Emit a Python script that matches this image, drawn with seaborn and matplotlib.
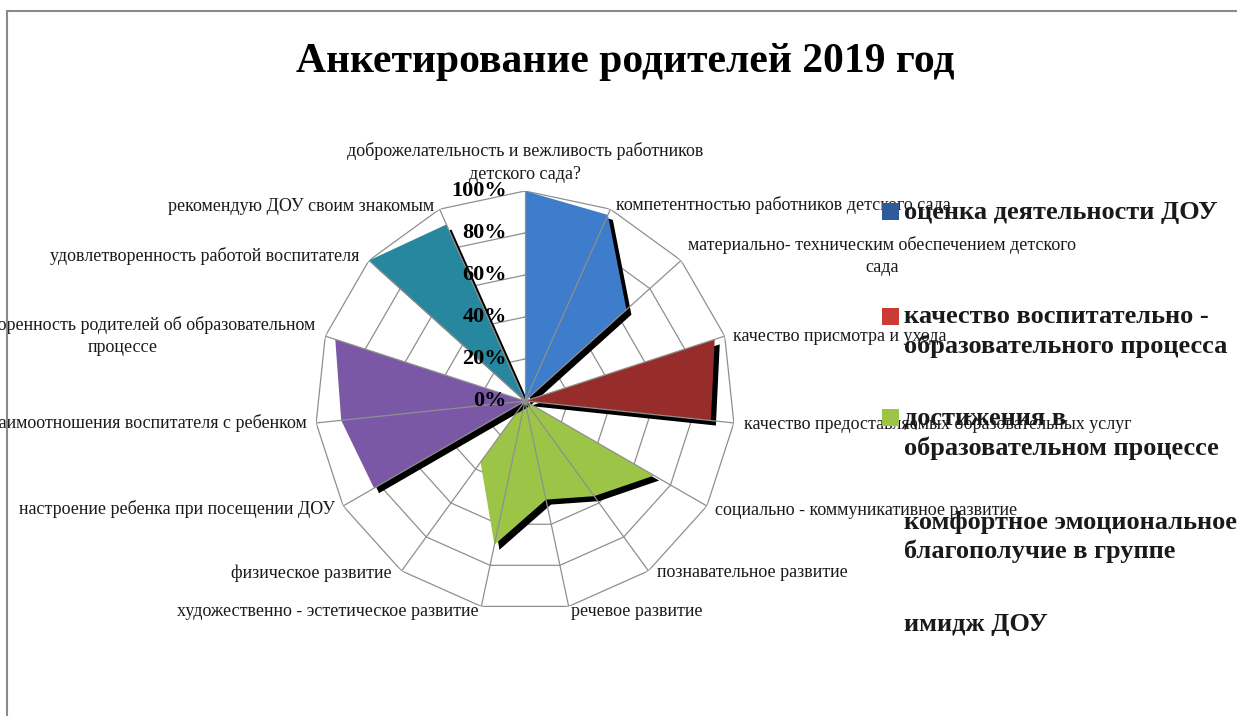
import numpy as np
import pandas as pd
import matplotlib
matplotlib.use("Agg")
import matplotlib.pyplot as plt
import matplotlib.patheffects as pe
from matplotlib.patches import Rectangle
from matplotlib.lines import Line2D
import seaborn as sns

# ---------------- data ----------------
title = "Анкетирование родителей 2019 год"

categories = [
    "доброжелательность и вежливость работников\nдетского сада?",
    "компетентностью работников детского сада",
    "материально- техническим обеспечением детского\nсада",
    "качество присмотра и ухода",
    "качество предоставляемых образовательных услуг",
    "социально - коммуникативное развитие",
    "познавательное развитие",
    "речевое развитие",
    "художественно - эстетическое развитие",
    "физическое развитие",
    "настроение ребенка при посещении ДОУ",
    "взаимоотношения воспитателя с ребенком",
    "удовлетворенность родителей об образовательном\nпроцессе",
    "удовлетворенность работой воспитателя",
    "рекомендую ДОУ своим знакомым",
]

series_names = [
    "оценка деятельности ДОУ",
    "качество воспитательно -\nобразовательного процесса",
    "достижения в\nобразовательном процессе",
    "комфортное эмоциональное\nблагополучие в группе",
    "имидж ДОУ",
]

ocenka_vals     = [1.00, 0.97, 0.65, 0, 0, 0, 0, 0, 0, 0, 0, 0, 0, 0, 0]
kachestvo_vals  = [0, 0, 0, 0.95, 0.89, 0, 0, 0, 0, 0, 0, 0, 0, 0, 0]
dostizh_vals    = [0, 0, 0, 0, 0, 0.71, 0.56, 0.48, 0.70, 0.36, 0, 0, 0, 0, 0]
komfort_vals    = [0, 0, 0, 0, 0, 0, 0, 0, 0, 0, 0.83, 0.88, 0.95, 0, 0]
imidzh_vals     = [0, 0, 0, 0, 0, 0, 0, 0, 0, 0, 0, 0, 0, 1.00, 0.92]

tick_values = [0.0, 0.2, 0.4, 0.6, 0.8, 1.0]
tick_labels = ["0%", "20%", "40%", "60%", "80%", "100%"]

# ---------------- style ----------------
sns.set_theme(style="white")
plt.rcParams['font.family'] = ['Liberation Serif', 'DejaVu Serif']

fill_colors = ["#3d7dcb", "#972d2b", "#9cc547", "#7b58a6", "#27879f"]
legend_colors = ["#2e5c9a", "#cc3a35", "#9cc547", None, None]

W, H = 1237, 716
fig = plt.figure(figsize=(W / 100, H / 100), dpi=100)

cx, cy, R = 525, 401, 210
ax = fig.add_axes([(cx - R) / W, 1 - (cy + R) / H, 2 * R / W, 2 * R / H], projection="polar")
ax.set_theta_offset(np.pi / 2)
ax.set_theta_direction(-1)
ax.set_ylim(0, 1)
ax.set_xticks([])
ax.set_yticks([])
ax.grid(False)
ax.spines['polar'].set_visible(False)
ax.patch.set_alpha(0)

n = len(categories)
angles = np.arange(n) * 2 * np.pi / n
closed_angles = np.append(angles, angles[0])

# polygonal rings
grid_color = "#8f8f8f"
for v in tick_values[1:]:
    ring = pd.DataFrame({"theta": closed_angles, "r": [v] * (n + 1)})
    sns.lineplot(data=ring, x="theta", y="r", sort=False, estimator=None,
                 ax=ax, color=grid_color, lw=0.9, zorder=1)

# series fills with shadow
all_vals = [ocenka_vals, kachestvo_vals, dostizh_vals, komfort_vals, imidzh_vals]
for vals, col in zip(all_vals, fill_colors):
    vv = np.append(vals, vals[0])
    ax.fill(closed_angles, vv, color=col, lw=0, zorder=2,
            path_effects=[pe.SimplePatchShadow(offset=(3.6, -3.6), shadow_rgbFace="black", alpha=1.0),
                          pe.Normal()])

# spokes on top
for a in angles:
    ax.plot([a, a], [0, 1], color=grid_color, lw=0.9, zorder=3)

# value axis labels
for v, lab in zip(tick_values, tick_labels):
    ax.annotate(lab, xy=(0, v), xytext=(-13, 0), textcoords="offset points",
                ha="right", va="center", fontsize=16, fontweight="bold",
                color="black", zorder=5, annotation_clip=False)

# category labels
label_style = [
    ("center", "bottom", (0, 6)),
    ("left", "center", (4, 3)),
    ("left", "center", (5, 3)),
    ("left", "center", (6, 0)),
    ("left", "center", (7, -1)),
    ("left", "center", (6, -3)),
    ("left", "center", (6, -1)),
    ("left", "center", (2, -4)),
    ("right", "center", (-2, -4)),
    ("right", "center", (-7, -2)),
    ("right", "center", (-6, -2)),
    ("right", "center", (-7, 0)),
    ("right", "center", (-7, 0)),
    ("right", "center", (-7, 3)),
    ("right", "center", (-4, 2)),
]
for a, lab, (ha, va, off) in zip(angles, categories, label_style):
    ax.annotate(lab, xy=(a, 1.0), xytext=off, textcoords="offset points",
                ha=ha, va=va, multialignment="center", fontsize=13,
                color="#1a1a1a", annotation_clip=False, zorder=6,
                linespacing=1.4)

# title
fig.text(625.5 / W, 1 - 62 / H, title, ha="center", va="center",
         fontsize=30, fontweight="bold", color="black")

# legend (manual, like the original)
legend_lines = [
    [(212, "оценка деятельности ДОУ")],
    [(317, "качество воспитательно -"), (346, "образовательного процесса")],
    [(418, "достижения в"), (448, "образовательном процессе")],
    [(523, "комфортное эмоциональное"), (551, "благополучие в группе")],
    [(625, "имидж ДОУ")],
]
for entry, col in zip(legend_lines, legend_colors):
    y0 = entry[0][0]
    if col is not None:
        fig.patches.append(Rectangle((882 / W, 1 - (y0 + 8) / H), 17 / W, 17 / H,
                                     transform=fig.transFigure, facecolor=col,
                                     edgecolor="none", zorder=4))
    for y, txt in entry:
        fig.text(904 / W, 1 - y / H, txt, ha="left", va="center",
                 fontsize=19, fontweight="bold", color="#1a1a1a", zorder=5)

# chart area border (top and left visible)
border_col = "#8a8a8a"
fig.lines.append(Line2D([7.5 / W, 1], [1 - 11 / H, 1 - 11 / H], transform=fig.transFigure,
                        color=border_col, lw=1.5))
fig.lines.append(Line2D([7.5 / W, 7.5 / W], [0, 1 - 11 / H], transform=fig.transFigure,
                        color=border_col, lw=1.5))

fig.savefig("out.png", dpi=100, facecolor="white")
